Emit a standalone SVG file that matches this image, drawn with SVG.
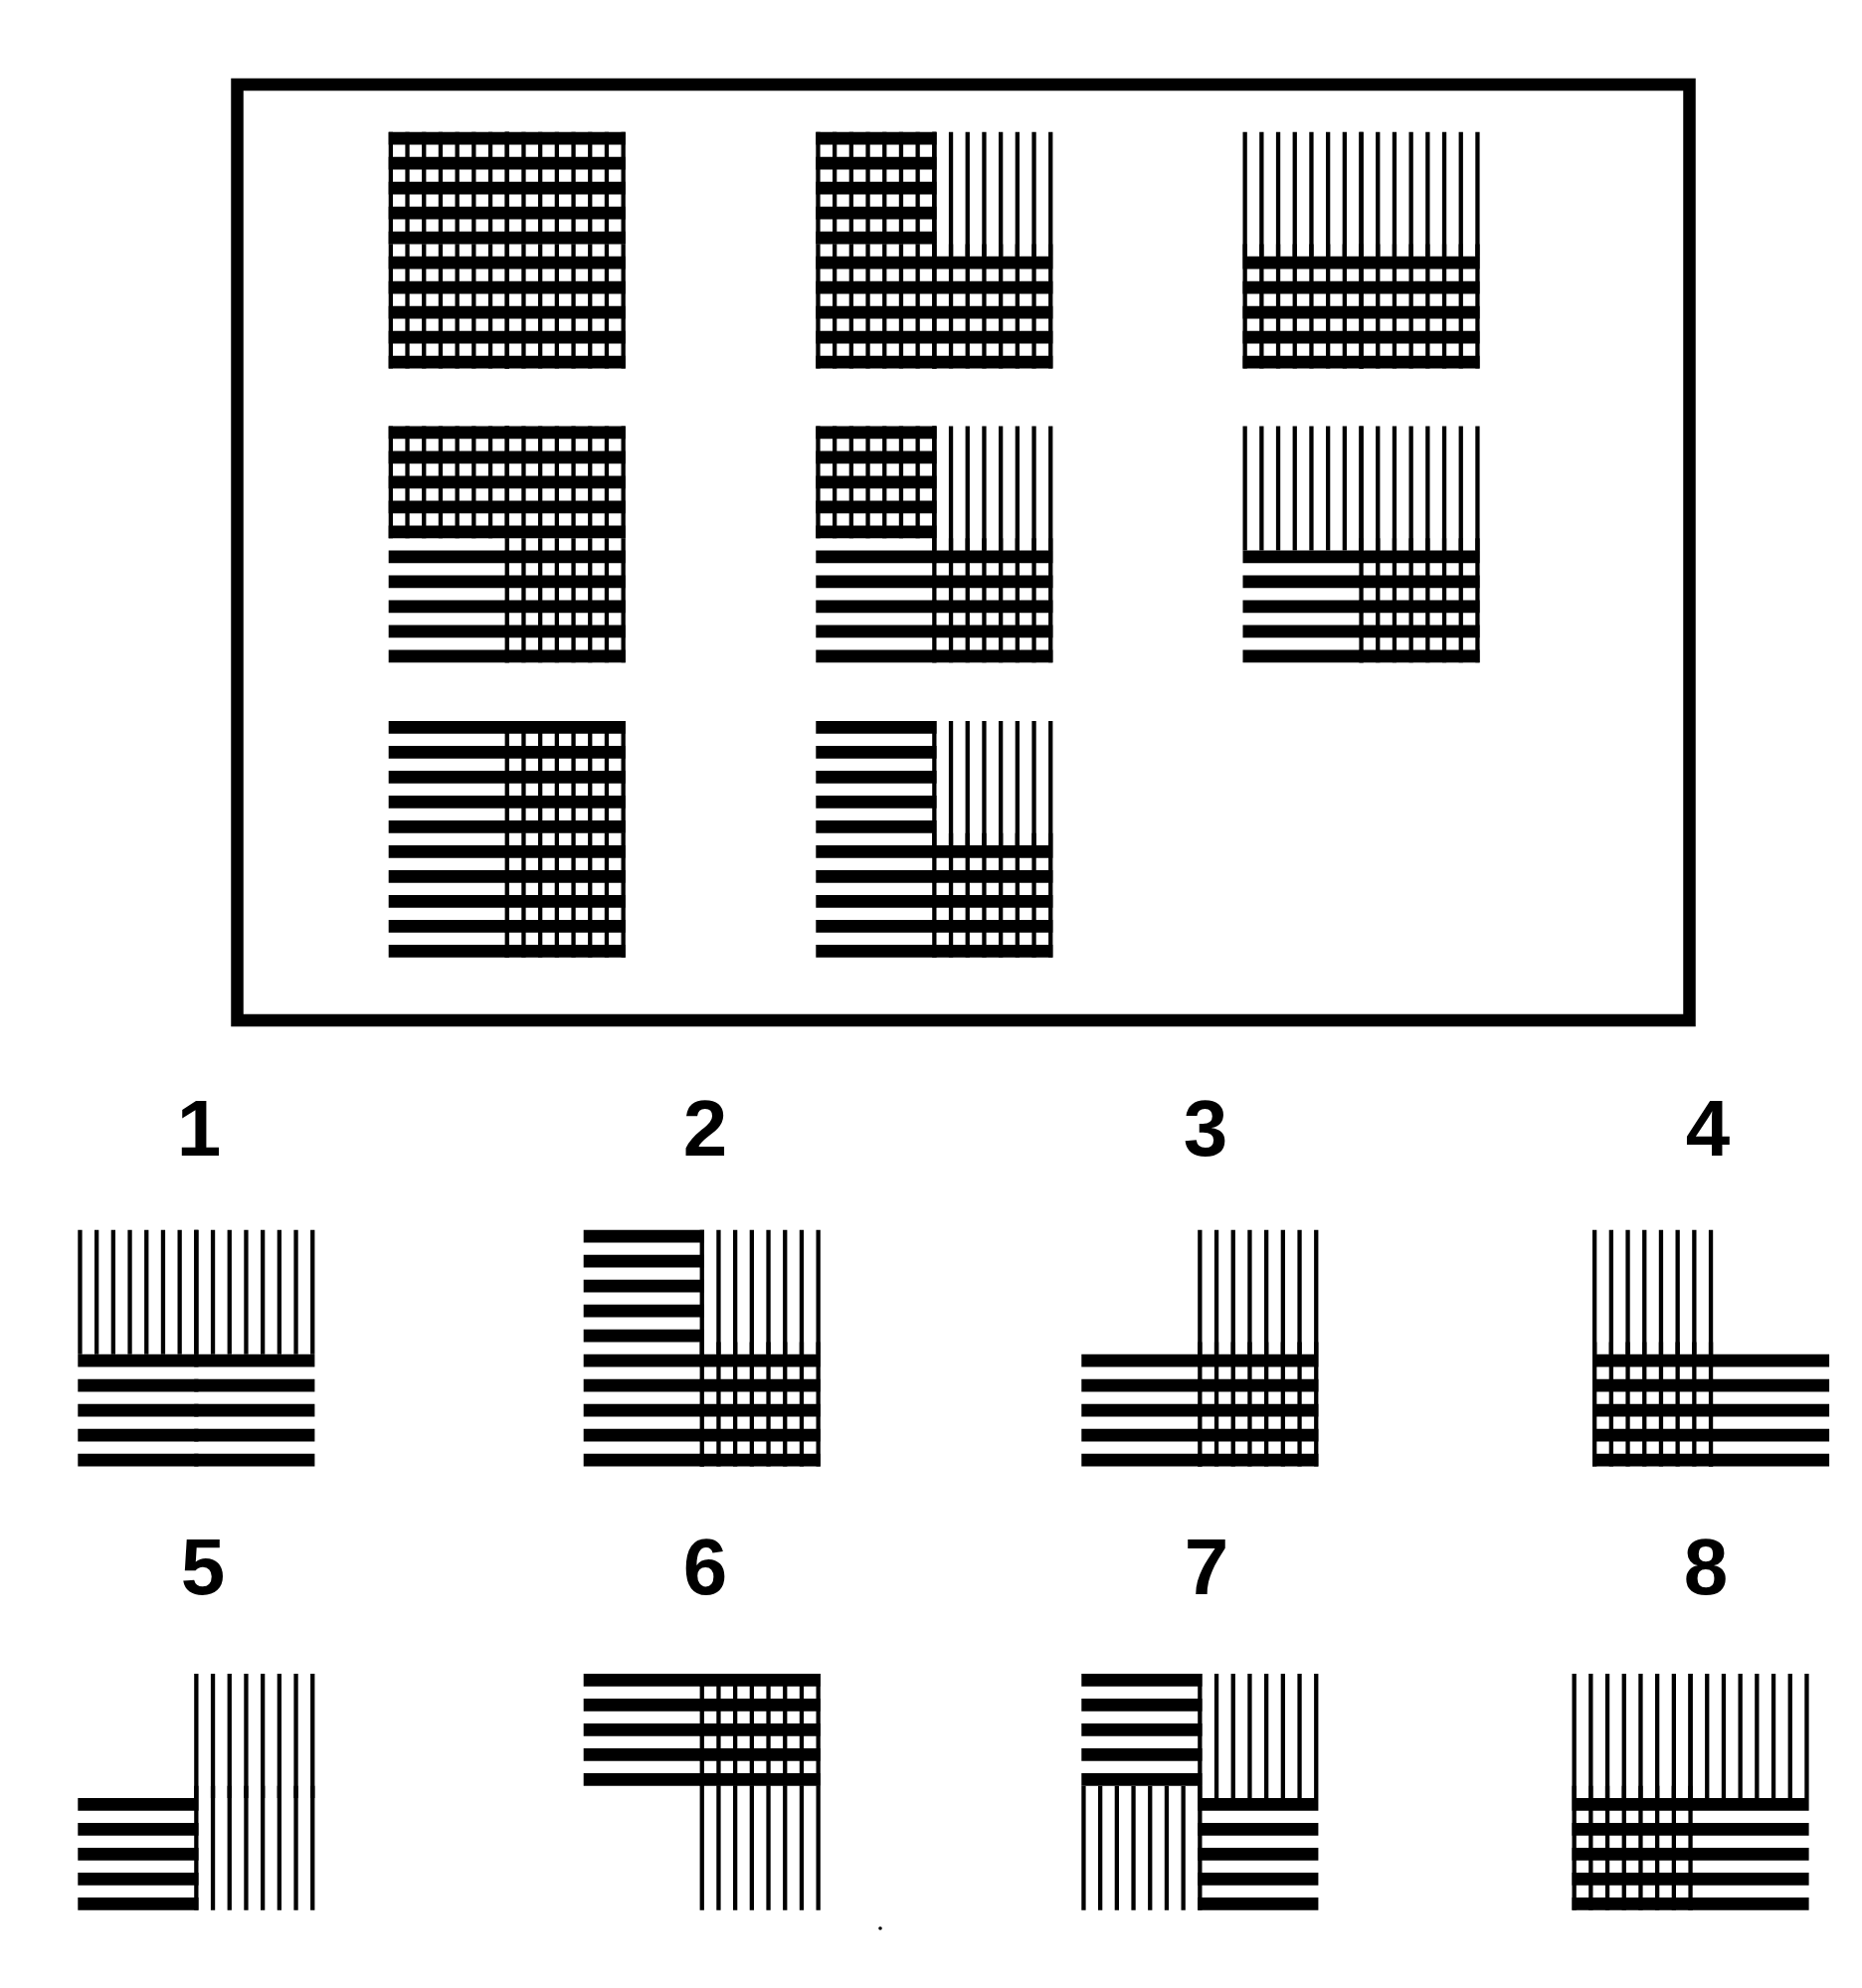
<svg xmlns="http://www.w3.org/2000/svg" width="1872" height="1999" viewBox="0 0 1872 1999">
<style>
.ink{fill:#000}
.lbl{font-family:"Liberation Sans",Arial,sans-serif;font-weight:bold;font-size:80px;fill:#000;text-anchor:middle}
.frame{fill:none;stroke:#000;stroke-width:12.5}
</style>
<defs>
<path id="gTL" class="ink" d="M0,0h4.3v112.7h-4.3z M16.7,0h4.3v112.7h-4.3z M33.4,0h4.3v112.7h-4.3z M50.1,0h4.3v112.7h-4.3z M66.8,0h4.3v112.7h-4.3z M83.5,0h4.3v112.7h-4.3z M100.2,0h4.3v112.7h-4.3z M116.9,0h4.3v112.7h-4.3z"/>
<path id="vTL" class="ink" d="M0,0h4.3v125h-4.3z M16.7,0h4.3v125h-4.3z M33.4,0h4.3v125h-4.3z M50.1,0h4.3v125h-4.3z M66.8,0h4.3v125h-4.3z M83.5,0h4.3v125h-4.3z M100.2,0h4.3v125h-4.3z M116.9,0h4.3v125h-4.3z"/>
<path id="gTR" class="ink" d="M116.9,0h4.3v112.7h-4.3z M133.6,0h4.3v112.7h-4.3z M150.3,0h4.3v112.7h-4.3z M167,0h4.3v112.7h-4.3z M183.7,0h4.3v112.7h-4.3z M200.4,0h4.3v112.7h-4.3z M217.1,0h4.3v112.7h-4.3z M233.8,0h4.3v112.7h-4.3z"/>
<path id="vTR" class="ink" d="M116.9,0h4.3v125h-4.3z M133.6,0h4.3v125h-4.3z M150.3,0h4.3v125h-4.3z M167,0h4.3v125h-4.3z M183.7,0h4.3v125h-4.3z M200.4,0h4.3v125h-4.3z M217.1,0h4.3v125h-4.3z M233.8,0h4.3v125h-4.3z"/>
<path id="vBL" class="ink" d="M0,112.7h4.3v125h-4.3z M16.7,112.7h4.3v125h-4.3z M33.4,112.7h4.3v125h-4.3z M50.1,112.7h4.3v125h-4.3z M66.8,112.7h4.3v125h-4.3z M83.5,112.7h4.3v125h-4.3z M100.2,112.7h4.3v125h-4.3z M116.9,112.7h4.3v125h-4.3z"/>
<path id="vBR" class="ink" d="M116.9,112.7h4.3v125h-4.3z M133.6,112.7h4.3v125h-4.3z M150.3,112.7h4.3v125h-4.3z M167,112.7h4.3v125h-4.3z M183.7,112.7h4.3v125h-4.3z M200.4,112.7h4.3v125h-4.3z M217.1,112.7h4.3v125h-4.3z M233.8,112.7h4.3v125h-4.3z"/>
<path id="hTL" class="ink" d="M0,0h121.2v12.7h-121.2z M0,25h121.2v12.7h-121.2z M0,50h121.2v12.7h-121.2z M0,75h121.2v12.7h-121.2z M0,100h121.2v12.7h-121.2z"/>
<path id="hTR" class="ink" d="M116.9,0h121.2v12.7h-121.2z M116.9,25h121.2v12.7h-121.2z M116.9,50h121.2v12.7h-121.2z M116.9,75h121.2v12.7h-121.2z M116.9,100h121.2v12.7h-121.2z"/>
<path id="hBL" class="ink" d="M0,125h121.2v12.7h-121.2z M0,150h121.2v12.7h-121.2z M0,175h121.2v12.7h-121.2z M0,200h121.2v12.7h-121.2z M0,225h121.2v12.7h-121.2z"/>
<path id="hBR" class="ink" d="M116.9,125h121.2v12.7h-121.2z M116.9,150h121.2v12.7h-121.2z M116.9,175h121.2v12.7h-121.2z M116.9,200h121.2v12.7h-121.2z M116.9,225h121.2v12.7h-121.2z"/>
</defs>
<rect width="1872" height="1999" fill="#fff"/>
<g id="matrix-frame"><rect class="frame" x="238.5" y="85" width="1460" height="941"/></g>

<g id="cell-r1c1" transform="translate(390.7,132.7)"><use href="#gTL"/><use href="#gTR"/><use href="#vBL"/><use href="#vBR"/><use href="#hTL"/><use href="#hTR"/><use href="#hBL"/><use href="#hBR"/></g>
<g id="cell-r1c2" transform="translate(820.3,132.7)"><use href="#gTL"/><use href="#vTR"/><use href="#vBL"/><use href="#vBR"/><use href="#hTL"/><use href="#hBL"/><use href="#hBR"/></g>
<g id="cell-r1c3" transform="translate(1249.5,132.7)"><use href="#vTL"/><use href="#vTR"/><use href="#vBL"/><use href="#vBR"/><use href="#hBL"/><use href="#hBR"/></g>
<g id="cell-r2c1" transform="translate(390.7,428.6)"><use href="#gTL"/><use href="#gTR"/><use href="#vBR"/><use href="#hTL"/><use href="#hTR"/><use href="#hBL"/><use href="#hBR"/></g>
<g id="cell-r2c2" transform="translate(820.3,428.6)"><use href="#gTL"/><use href="#vTR"/><use href="#vBR"/><use href="#hTL"/><use href="#hBL"/><use href="#hBR"/></g>
<g id="cell-r2c3" transform="translate(1249.5,428.6)"><use href="#vTL"/><use href="#vTR"/><use href="#vBR"/><use href="#hBL"/><use href="#hBR"/></g>
<g id="cell-r3c1" transform="translate(390.7,725)"><use href="#hTL"/><use href="#hTR"/><use href="#gTR"/><use href="#hBL"/><use href="#hBR"/><use href="#vBR"/></g>
<g id="cell-r3c2" transform="translate(820.3,725)"><use href="#hTL"/><use href="#vTR"/><use href="#hBL"/><use href="#hBR"/><use href="#vBR"/></g>

<g id="option-1"><text class="lbl" x="200" y="1162">1</text><g transform="translate(78.3,1236.7)"><use href="#vTL"/><use href="#vTR"/><use href="#hBL"/><use href="#hBR"/></g></g>
<g id="option-2"><text class="lbl" x="709" y="1162">2</text><g transform="translate(586.7,1236.7)"><use href="#hTL"/><use href="#vTR"/><use href="#hBL"/><use href="#hBR"/><use href="#vBR"/></g></g>
<g id="option-3"><text class="lbl" x="1212" y="1162">3</text><g transform="translate(1087.3,1236.7)"><use href="#vTR"/><use href="#hBL"/><use href="#hBR"/><use href="#vBR"/></g></g>
<g id="option-4"><text class="lbl" x="1717" y="1162">4</text><g transform="translate(1601,1236.7)"><use href="#vTL"/><use href="#vBL"/><use href="#hBL"/><use href="#hBR"/></g></g>
<g id="option-5"><text class="lbl" x="204" y="1603">5</text><g transform="translate(78.3,1683)"><use href="#vTR"/><use href="#vBR"/><use href="#hBL"/></g></g>
<g id="option-6"><text class="lbl" x="709" y="1603">6</text><g transform="translate(586.7,1683)"><use href="#hTL"/><use href="#hTR"/><use href="#gTR"/><use href="#vBR"/></g></g>
<g id="option-7"><text class="lbl" x="1213" y="1603">7</text><g transform="translate(1087.3,1683)"><use href="#hTL"/><use href="#vTR"/><use href="#vBL"/><use href="#hBR"/></g></g>
<g id="option-8"><text class="lbl" x="1715" y="1603">8</text><g transform="translate(1580.5,1683)"><use href="#vTL"/><use href="#vTR"/><use href="#vBL"/><use href="#hBL"/><use href="#hBR"/></g></g>

<circle cx="885" cy="1939" r="1.8" fill="#000"/>
</svg>
